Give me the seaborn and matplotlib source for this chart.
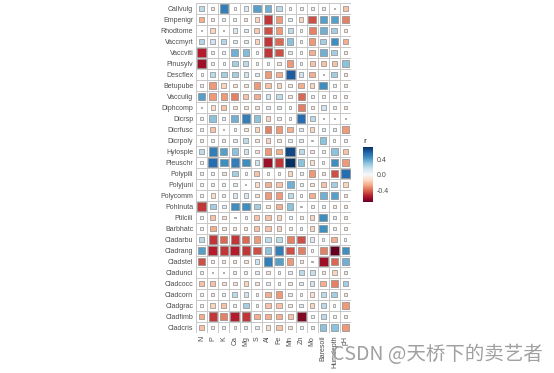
import numpy as np
import pandas as pd
import seaborn as sns
import matplotlib
import matplotlib.pyplot as plt

species = ["Callvulg", "Empenigr", "Rhodtome", "Vaccmyrt", "Vaccviti", "Pinusylv",
           "Descflex", "Betupube", "Vacculig", "Diphcomp", "Dicrsp", "Dicrfusc",
           "Dicrpoly", "Hylosple", "Pleuschr", "Polypili", "Polyjuni", "Polycomm",
           "Pohlnuta", "Ptilcili", "Barbhatc", "Cladarbu", "Cladrang", "Cladstel",
           "Cladunci", "Cladcocc", "Cladcorn", "Cladgrac", "Cladfimb", "Cladcris"]
soil = ["N", "P", "K", "Ca", "Mg", "S", "Al", "Fe", "Mn", "Zn", "Mo",
        "Baresoil", "Humdepth", "pH"]

# correlation of each species with each soil variable
r_N = [0.20, -0.25, 0.02, 0.22, -0.55, -0.60, 0.03, -0.06, 0.40, 0.02, -0.06, 0.08, -0.10, 0.20, 0.05,
       0.06, 0.05, 0.05, -0.50, 0.05, 0.05, 0.20, 0.40, -0.45, 0.06, -0.20, 0.05, 0.05, -0.25, -0.20]
r_P = [-0.10, -0.08, -0.15, 0.15, 0.08, 0.06, 0.20, -0.30, -0.30, -0.12, 0.30, -0.20, 0.06, 0.50, 0.55,
       0.06, 0.08, -0.12, 0.25, -0.20, -0.25, -0.50, -0.55, -0.05, 0.02, -0.20, -0.08, -0.15, -0.50, -0.06]
r_K = [0.50, 0.08, 0.02, 0.22, 0.05, 0.03, 0.25, -0.15, -0.30, -0.20, 0.08, 0.01, -0.08, 0.40, 0.45,
       -0.10, 0.06, 0.08, 0.10, -0.10, -0.10, -0.40, -0.50, -0.06, 0.02, -0.10, 0.06, -0.20, -0.35, 0.06]
r_Ca = [0.03, 0.08, 0.12, 0.10, 0.35, 0.25, 0.25, -0.10, -0.35, -0.10, 0.35, 0.04, 0.10, 0.30, 0.50,
        0.25, 0.10, 0.12, 0.45, 0.02, -0.08, -0.50, -0.55, -0.08, 0.08, -0.10, 0.20, 0.08, -0.55, 0.03]
r_Mg = [0.12, -0.08, 0.10, 0.10, 0.32, 0.20, 0.15, -0.10, -0.20, -0.10, 0.50, -0.10, 0.20, 0.15, 0.45,
        0.03, 0.01, 0.12, 0.45, 0.04, -0.08, -0.40, -0.50, -0.10, 0.08, -0.15, 0.15, 0.25, -0.50, 0.08]
r_S = [0.40, -0.15, -0.18, -0.15, 0.03, 0.03, 0.10, -0.30, -0.25, -0.10, 0.30, -0.15, -0.08, -0.10, 0.15,
       -0.20, -0.12, -0.10, 0.25, -0.20, -0.20, -0.30, -0.45, 0.15, 0.08, -0.10, 0.05, 0.05, -0.25, 0.08]
r_Al = [0.35, -0.50, -0.45, -0.50, -0.50, 0.06, -0.30, -0.20, 0.15, 0.08, -0.15, -0.35, -0.15, -0.30, -0.60,
        0.03, -0.25, -0.30, -0.08, -0.20, -0.20, 0.20, 0.30, 0.50, -0.08, 0.08, -0.25, -0.20, -0.25, -0.12]
r_Fe = [0.20, -0.30, -0.30, -0.40, -0.45, -0.08, -0.25, -0.15, 0.20, 0.10, 0.08, -0.30, -0.08, -0.25, -0.50,
        0.03, -0.20, -0.30, -0.25, -0.15, -0.15, 0.20, 0.50, 0.40, -0.06, 0.06, -0.30, -0.20, -0.25, -0.20]
r_Mn = [0.05, 0.10, 0.20, 0.30, 0.10, -0.30, 0.60, -0.08, -0.08, 0.04, 0.04, -0.25, 0.08, 0.65, 0.72,
        -0.15, 0.35, 0.20, 0.30, 0.06, -0.06, -0.35, -0.45, -0.30, 0.08, -0.08, 0.08, -0.08, -0.20, -0.10]
r_Zn = [0.08, -0.15, 0.03, 0.05, 0.03, 0.05, 0.15, -0.25, -0.40, -0.35, 0.55, 0.10, 0.10, 0.20, 0.30,
        0.06, 0.06, 0.03, 0.02, -0.06, 0.05, -0.45, -0.35, -0.08, 0.20, 0.10, 0.05, 0.10, -0.65, 0.06]
r_Mo = [0.08, -0.45, -0.35, -0.30, -0.25, -0.20, -0.25, -0.15, 0.06, -0.06, 0.20, -0.15, 0.02, -0.10, -0.12,
        -0.30, -0.10, -0.25, 0.06, -0.15, -0.15, 0.12, 0.03, 0.02, 0.18, 0.15, -0.12, -0.15, 0.06, 0.08]
r_Baresoil = [0.08, 0.40, 0.35, 0.25, 0.35, -0.20, 0.02, 0.45, 0.05, 0.15, 0.02, 0.08, 0.30, 0.05, 0.04,
              -0.08, -0.20, 0.35, 0.08, 0.45, 0.45, 0.03, -0.35, -0.60, -0.06, -0.25, 0.20, 0.20, 0.20, 0.30]
r_Humdepth = [0.02, 0.40, 0.25, 0.45, 0.25, -0.20, 0.25, 0.08, 0.05, 0.08, 0.02, 0.10, 0.03, 0.30, 0.45,
              -0.45, 0.25, 0.40, -0.06, 0.10, 0.08, -0.25, -0.70, -0.40, -0.15, -0.35, 0.25, 0.03, 0.06, 0.30]
r_pH = [-0.20, -0.35, -0.08, -0.25, -0.06, 0.30, -0.08, -0.08, -0.08, -0.10, 0.02, -0.30, -0.06, -0.20, -0.30,
        0.55, -0.15, -0.08, -0.08, -0.08, -0.08, 0.03, 0.45, 0.35, -0.08, 0.25, -0.08, -0.30, -0.10, -0.30]

cbar_ticks = [-0.4, 0.0, 0.4]

wide = pd.DataFrame({"N": r_N, "P": r_P, "K": r_K, "Ca": r_Ca, "Mg": r_Mg, "S": r_S,
                     "Al": r_Al, "Fe": r_Fe, "Mn": r_Mn, "Zn": r_Zn, "Mo": r_Mo,
                     "Baresoil": r_Baresoil, "Humdepth": r_Humdepth, "pH": r_pH}, index=species)
long = wide.reset_index(names="species").melt(id_vars="species", var_name="var", value_name="r")
long["absr"] = long["r"].abs()

sns.set_style("white")
plt.rcParams["font.family"] = ["Liberation Sans", "DejaVu Sans"]

fig = plt.figure(figsize=(5.54, 3.73), dpi=100)
ax = fig.add_axes([196 / 554, 1 - 333 / 373, 155 / 554, 330 / 373])

vmin, vmax = -0.70, 0.72
sns.scatterplot(data=long, x="var", y="species", hue="r", size="absr", marker="s",
                palette="RdBu", hue_norm=(vmin, vmax), sizes=(0, 50), size_norm=(0, 0.72),
                edgecolor="#8c8c8c", linewidth=0.5, legend=False, ax=ax)

ax.set_xlim(-0.5, len(soil) - 0.5)
ax.set_ylim(len(species) - 0.5, -0.5)
ax.set_xticks(range(len(soil)))
ax.set_xticklabels(soil, rotation=90, fontsize=5, color="#4d4d4d")
ax.set_yticks(range(len(species)))
ax.set_yticklabels(species, fontsize=5, color="#4d4d4d")
ax.set_xticks(np.arange(-0.5, len(soil)), minor=True)
ax.set_yticks(np.arange(-0.5, len(species)), minor=True)
ax.grid(which="minor", color="#c8c8c8", linewidth=0.7)
ax.grid(which="major", visible=False)
ax.tick_params(which="both", length=0, pad=2)
ax.set_xlabel("")
ax.set_ylabel("")
sns.despine(ax=ax, left=True, bottom=True)

cax = fig.add_axes([363 / 554, 1 - 202 / 373, 10 / 554, 55 / 373])
sm = matplotlib.cm.ScalarMappable(norm=matplotlib.colors.Normalize(vmin, vmax), cmap="RdBu")
cb = fig.colorbar(sm, cax=cax, ticks=cbar_ticks)
cb.outline.set_visible(False)
cb.ax.set_yticklabels([f"{t:.1f}" for t in cbar_ticks])
cb.ax.tick_params(direction="in", length=2.5, color="white", labelsize=5, labelcolor="#4d4d4d", pad=3)
cax.set_title("r", fontsize=6, loc="left", pad=3)

fig.text(332 / 554, 1 - 355 / 373, "CSDN @天桥下的卖艺者", fontsize=14, color="#a0a0a0",
         va="center", ha="left", family=["Noto Sans CJK SC", "DejaVu Sans"])

fig.savefig("out.png", dpi=100)
